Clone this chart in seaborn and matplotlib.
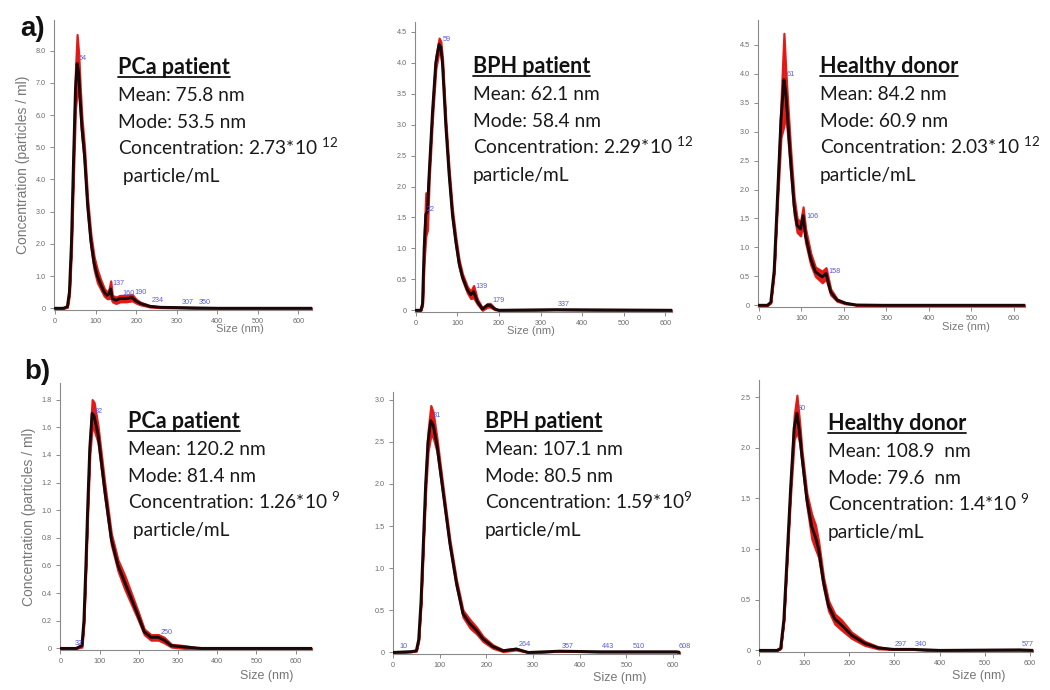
import numpy as np
import pandas as pd
import matplotlib
matplotlib.use("Agg")
import matplotlib.pyplot as plt
import seaborn as sns
from matplotlib.lines import Line2D

# ---------------- data ----------------
# a) PCa patient
a1_size = [0, 20, 30, 35, 40, 45, 50, 54, 58, 62, 66, 72, 80, 88, 96, 104, 112, 121, 128, 133, 137, 141, 150, 160, 175, 190, 200, 210, 234, 260, 307, 350, 400, 634]
a1_conc = [0, 0, 0.05, 0.5, 2.0, 4.5, 6.8, 7.6, 7.3, 6.4, 5.6, 4.8, 3.2, 2.1, 1.4, 1.0, 0.75, 0.5, 0.4, 0.45, 0.6, 0.3, 0.25, 0.3, 0.3, 0.33, 0.22, 0.15, 0.06, 0.03, 0.02, 0.01, 0, 0]
a1_err = [0, 0, 0.02, 0.1, 0.2, 0.4, 0.6, 0.9, 0.6, 0.4, 0.3, 0.25, 0.2, 0.2, 0.2, 0.2, 0.15, 0.12, 0.1, 0.15, 0.25, 0.1, 0.1, 0.1, 0.1, 0.1, 0.06, 0.04, 0.02, 0.01, 0.01, 0.01, 0, 0]
a1_peaks = ["54", "137", "160", "190", "234", "307", "350"]
a1_peak_y = [7.6, 0.62, 0.32, 0.34, 0.08, 0.02, 0.02]

# a) BPH patient
a2_size = [0, 12, 16, 20, 24, 28, 32, 40, 48, 56, 60, 64, 72, 80, 88, 96, 104, 112, 124, 132, 139, 148, 160, 172, 179, 190, 200, 337, 616]
a2_conc = [0, 0, 0.1, 1.0, 1.55, 1.6, 2.2, 3.2, 4.0, 4.3, 4.25, 4.0, 3.0, 2.2, 1.55, 1.12, 0.76, 0.54, 0.33, 0.25, 0.3, 0.14, 0.02, 0.08, 0.08, 0.02, 0, 0.01, 0]
a2_err = [0, 0, 0.02, 0.2, 0.35, 0.3, 0.1, 0.1, 0.1, 0.1, 0.1, 0.08, 0.08, 0.08, 0.08, 0.07, 0.06, 0.05, 0.05, 0.06, 0.1, 0.04, 0.02, 0.03, 0.03, 0.01, 0, 0, 0]
a2_peaks = ["22", "59", "139", "179", "337"]
a2_peak_y = [1.55, 4.3, 0.3, 0.08, 0.01]

# a) Healthy donor
a3_size = [0, 20, 28, 36, 44, 52, 59, 63, 67, 75, 83, 90, 98, 104, 110, 122, 133, 149, 158, 169, 184, 204, 230, 290, 626]
a3_conc = [0, 0, 0.05, 0.6, 1.9, 3.2, 3.9, 3.7, 3.3, 2.47, 1.72, 1.38, 1.32, 1.55, 1.2, 0.8, 0.58, 0.49, 0.55, 0.23, 0.09, 0.035, 0.005, 0, 0]
a3_err = [0, 0, 0.01, 0.05, 0.1, 0.3, 0.8, 0.4, 0.3, 0.2, 0.15, 0.12, 0.12, 0.15, 0.12, 0.1, 0.08, 0.1, 0.1, 0.05, 0.02, 0.01, 0, 0, 0]
a3_peaks = ["61", "106", "158"]
a3_peak_y = [3.9, 1.45, 0.5]

# b) PCa patient
b1_size = [0, 40, 55, 60, 65, 70, 75, 81, 86, 96, 113, 130, 147, 164, 181, 198, 214, 231, 250, 265, 283, 317, 360, 642]
b1_conc = [0, 0, 0.02, 0.2, 0.6, 1.05, 1.45, 1.7, 1.68, 1.55, 1.15, 0.79, 0.6, 0.48, 0.36, 0.24, 0.12, 0.08, 0.08, 0.06, 0.02, 0.01, 0, 0]
b1_err = [0, 0, 0.01, 0.02, 0.03, 0.04, 0.05, 0.1, 0.1, 0.06, 0.05, 0.04, 0.04, 0.05, 0.04, 0.03, 0.02, 0.02, 0.02, 0.02, 0.01, 0.01, 0, 0]
b1_peaks = ["32", "82", "250"]
b1_peak_y = [0.0, 1.68, 0.08]

# b) BPH patient
b2_size = [0, 40, 50, 55, 60, 65, 70, 75, 81, 86, 94, 108, 122, 136, 150, 165, 179, 193, 214, 236, 264, 290, 357, 443, 510, 608, 615]
b2_conc = [0, 0.01, 0.02, 0.15, 0.6, 1.3, 2.0, 2.5, 2.75, 2.7, 2.47, 1.88, 1.29, 0.82, 0.46, 0.34, 0.26, 0.16, 0.07, 0.02, 0.04, 0, 0.015, 0.008, 0.008, 0.008, 0]
b2_err = [0, 0, 0, 0.01, 0.03, 0.05, 0.08, 0.12, 0.18, 0.15, 0.08, 0.05, 0.04, 0.04, 0.04, 0.05, 0.04, 0.03, 0.02, 0.01, 0.01, 0, 0, 0, 0, 0, 0]
b2_peaks = ["10", "81", "264", "357", "443", "510", "608"]
b2_peak_y = [0.01, 2.75, 0.04, 0.015, 0.01, 0.01, 0.01]

# b) Healthy donor
b3_size = [0, 40, 48, 55, 62, 70, 78, 84, 90, 95, 106, 117, 125, 132, 143, 154, 168, 183, 205, 234, 264, 297, 340, 400, 577, 607]
b3_conc = [0, 0, 0.02, 0.3, 0.9, 1.6, 2.2, 2.34, 2.15, 1.92, 1.49, 1.22, 1.12, 1.0, 0.67, 0.44, 0.31, 0.25, 0.15, 0.07, 0.025, 0.01, 0.01, 0.0, 0.005, 0]
b3_err = [0, 0, 0, 0.01, 0.03, 0.06, 0.12, 0.18, 0.1, 0.06, 0.06, 0.12, 0.12, 0.08, 0.05, 0.05, 0.05, 0.05, 0.03, 0.02, 0.01, 0, 0, 0, 0, 0]
b3_peaks = ["80", "297", "340", "577"]
b3_peak_y = [2.34, 0.01, 0.01, 0.005]

titles = ["PCa patient", "BPH patient", "Healthy donor", "PCa patient", "BPH patient", "Healthy donor"]
mean_lines = ["Mean: 75.8 nm", "Mean: 62.1 nm", "Mean: 84.2 nm", "Mean: 120.2 nm", "Mean: 107.1 nm", "Mean: 108.9  nm"]
mode_lines = ["Mode: 53.5 nm", "Mode: 58.4 nm", "Mode: 60.9 nm", "Mode: 81.4 nm", "Mode: 80.5 nm", "Mode: 79.6  nm"]
conc_values = ["2.73*10 ", "2.29*10 ", "2.03*10 ", "1.26*10 ", "1.59*10", "1.4*10 "]
conc_exps = ["12", "12", "12", "9", "9", "9"]
unit_lines = [" particle/mL", "particle/mL", "particle/mL", " particle/mL", "particle/mL", "particle/mL"]
y_ticks = [
    [0, 1.0, 2.0, 3.0, 4.0, 5.0, 6.0, 7.0, 8.0],
    [0, 0.5, 1.0, 1.5, 2.0, 2.5, 3.0, 3.5, 4.0, 4.5],
    [0, 0.5, 1.0, 1.5, 2.0, 2.5, 3.0, 3.5, 4.0, 4.5],
    [0, 0.2, 0.4, 0.6, 0.8, 1.0, 1.2, 1.4, 1.6, 1.8],
    [0, 0.5, 1.0, 1.5, 2.0, 2.5, 3.0],
    [0, 0.5, 1.0, 1.5, 2.0, 2.5],
]
x_ticks = [0, 100, 200, 300, 400, 500, 600]

series = [
    (a1_size, a1_conc, a1_err, a1_peaks, a1_peak_y),
    (a2_size, a2_conc, a2_err, a2_peaks, a2_peak_y),
    (a3_size, a3_conc, a3_err, a3_peaks, a3_peak_y),
    (b1_size, b1_conc, b1_err, b1_peaks, b1_peak_y),
    (b2_size, b2_conc, b2_err, b2_peaks, b2_peak_y),
    (b3_size, b3_conc, b3_err, b3_peaks, b3_peak_y),
]

# ---------------- layout (pixels) ----------------
W, H = 1050, 690
axes_px = [(54, 20, 312, 310), (415, 22, 672, 312), (758, 20, 1025, 307),
           (60, 383, 312, 650), (393, 392, 680, 654), (759, 380, 1033, 652)]
xlims = [(-3, 634), (-2, 616), (-2, 626), (-1, 642), (0, 615), (0, 607)]
ylims = [8.95, 4.66, 4.93, 1.92, 3.09, 2.67]
text_px = [(118, 74), (473, 73), (820, 73), (128, 428), (485, 428), (828, 430)]
xlabel_frac = [0.72, 0.45, 0.78, 0.82, 0.79, 0.80]
xlabel_pad = [14, 14, 15, 20, 18, 18]
line_gap = 27

sns.set_style("ticks")
plt.rcParams["font.family"] = ["Liberation Sans", "DejaVu Sans"]
plt.rcParams["mathtext.fontset"] = "custom"
plt.rcParams["mathtext.rm"] = "Lato"
plt.rcParams["mathtext.it"] = "Lato:italic"
plt.rcParams["mathtext.bf"] = "Lato:bold"

fig = plt.figure(figsize=(W / 100, H / 100), dpi=100)
fig.patch.set_facecolor("white")

GRAY = "#8a8a8a"
title_texts = []
for i, (sz, cc, er, pk, pky) in enumerate(series):
    l, t, r, b = axes_px[i]
    ax = fig.add_axes([l / W, 1 - b / H, (r - l) / W, (b - t) / H])
    ax.set_facecolor("white")
    sz = np.asarray(sz, float)
    cc = np.asarray(cc, float)
    er = np.asarray(er, float)
    ax.fill_between(sz, np.clip(cc - er, 0, None), cc + er, facecolor="#e3140f",
                    edgecolor="#e3140f", lw=1.6, alpha=0.95, zorder=2)
    df = pd.DataFrame({"size": sz, "conc": cc})
    sns.lineplot(data=df, x="size", y="conc", ax=ax, color="#1a0707", lw=2.1, zorder=3)
    ymax = ylims[i]
    ax.set_xlim(*xlims[i])
    ax.set_ylim(-0.006 * ymax, ymax)
    ax.set_xticks(x_ticks)
    ax.set_xticklabels([str(v) for v in x_ticks])
    ax.set_yticks(y_ticks[i])
    ax.set_yticklabels(["0" if v == 0 else f"{v:.1f}" for v in y_ticks[i]])
    ax.tick_params(axis="both", colors=GRAY, labelcolor="#6a6a6a", labelsize=5.2,
                   length=3, width=0.7, pad=3)
    for s in ("top", "right"):
        ax.spines[s].set_visible(False)
    for s in ("left", "bottom"):
        ax.spines[s].set_color(GRAY)
        ax.spines[s].set_linewidth(0.8)
    ax.set_xlabel("")
    ax.set_ylabel("")
    if i in (0, 3):
        ax.set_ylabel("Concentration (particles / ml)", color="#777777", fontsize=10, labelpad=4)
    fs = 8 if i < 3 else 9
    ax.text(xlabel_frac[i], -xlabel_pad[i] / (b - t), "Size (nm)", transform=ax.transAxes,
            ha="center", va="top", fontsize=fs, color="#777777")
    # peak labels
    for lab, py in zip(pk, pky):
        ax.annotate(lab, (float(lab), py), xytext=(1.5, 1.0), textcoords="offset points",
                    fontsize=5.2, color="#5a5ae0", ha="left", va="bottom", zorder=4)
    # annotation block
    tx, ty = text_px[i]
    tt = fig.text(tx / W, 1 - ty / H, titles[i], fontsize=15.5, fontweight="bold",
                  family=["Lato", "DejaVu Sans"], color="#111111", va="baseline", ha="left")
    title_texts.append((tt, ty))
    lines = [mean_lines[i], mode_lines[i],
             "Concentration: " + conc_values[i] + r"$^{" + conc_exps[i] + "}$",
             unit_lines[i]]
    for k, s in enumerate(lines):
        fig.text(tx / W, 1 - (ty + line_gap * (k + 1)) / H, s, fontsize=13.8,
                 family=["Lato", "DejaVu Sans"], color="#1a1a1a", va="baseline", ha="left")

fig.text(20 / W, 1 - 36 / H, "a)", fontsize=20, fontweight="bold", color="#111111", va="baseline")
fig.text(24 / W, 1 - 379 / H, "b)", fontsize=20, fontweight="bold", color="#111111", va="baseline")

fig.canvas.draw()
for tt, ty in title_texts:
    bb = tt.get_window_extent()
    yy = 1 - (ty + 3) / H
    fig.add_artist(Line2D([bb.x0 / W, bb.x1 / W], [yy, yy], transform=fig.transFigure,
                          color="#111111", lw=1.3))

fig.savefig("out.png", dpi=100, facecolor="white")
